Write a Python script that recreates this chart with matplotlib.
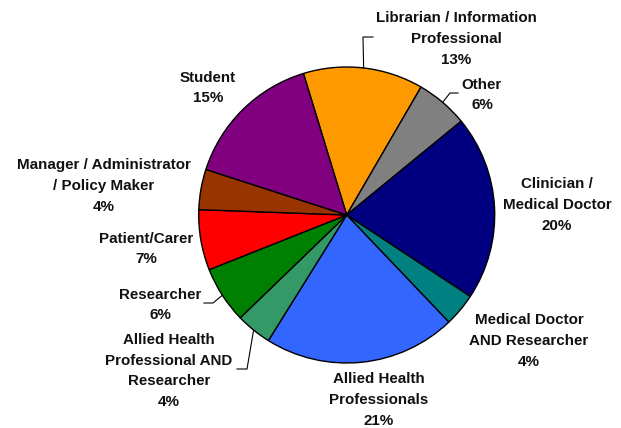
""" survey respondents pie """

import numpy as np
import matplotlib.pyplot as plt

categories = ["Librarian / Information\nProfessional", "Other", "Clinician /\nMedical Doctor",
              "Medical Doctor\nAND Researcher", "Allied Health\nProfessionals",
              "Allied Health\nProfessional AND\nResearcher", "Researcher", "Patient/Carer",
              "Manager / Administrator\n/ Policy Maker", "Student"]
shares = [13.1, 5.7, 20.2, 3.6, 21.0, 3.9, 6.2, 6.6, 4.4, 15.3]
colors = ["#FF9900", "#808080", "#000080", "#008080", "#3366FF",
          "#339966", "#008000", "#FF0000", "#993300", "#800080"]

# label centres in pixels (x, y from top), and whether a leader line is drawn
label_pos = [(456, 39), (482, 95), (557, 205), (529, 341), (379, 400),
             (169, 371), (160, 305), (146, 249), (104, 186), (208, 88)]
leaders = {0: [(363, 37), (373, 37)],
           1: [(450, 93), (458, 93)],
           5: [(247, 369), (237, 369)],
           6: [(213, 303), (204, 303)]}

W, H = 621, 428
cx, cy, r = 346.7, H - 215, 148

fig = plt.figure(figsize=(W / 100, H / 100), dpi=100)
ax = fig.add_axes([0, 0, 1, 1])
wedges, _ = ax.pie(shares, colors=colors, startangle=107, counterclock=False,
                   center=(cx, cy), radius=r, frame=True,
                   wedgeprops=dict(edgecolor="black", linewidth=1))
ax.set_xlim(0, W)
ax.set_ylim(0, H)
ax.set_aspect("equal")
ax.axis("off")

for i, (w, name, v) in enumerate(zip(wedges, categories, shares)):
    x, y = label_pos[i]
    ax.text(x, H - y, f"{name}\n{v:.0f}%", ha="center", va="center",
            family="Liberation Sans", fontweight="bold", fontsize=10.9,
            linespacing=1.6, color="#111111")
    if i in leaders:
        mid = np.deg2rad((w.theta1 + w.theta2) / 2)
        ex, ey = cx + r * np.cos(mid), cy + r * np.sin(mid)
        (bx, by), (tx, ty) = leaders[i]
        ax.plot([ex, bx, tx], [ey, H - by, H - ty], color="black", linewidth=0.8)

plt.savefig("out.png", dpi=100)
